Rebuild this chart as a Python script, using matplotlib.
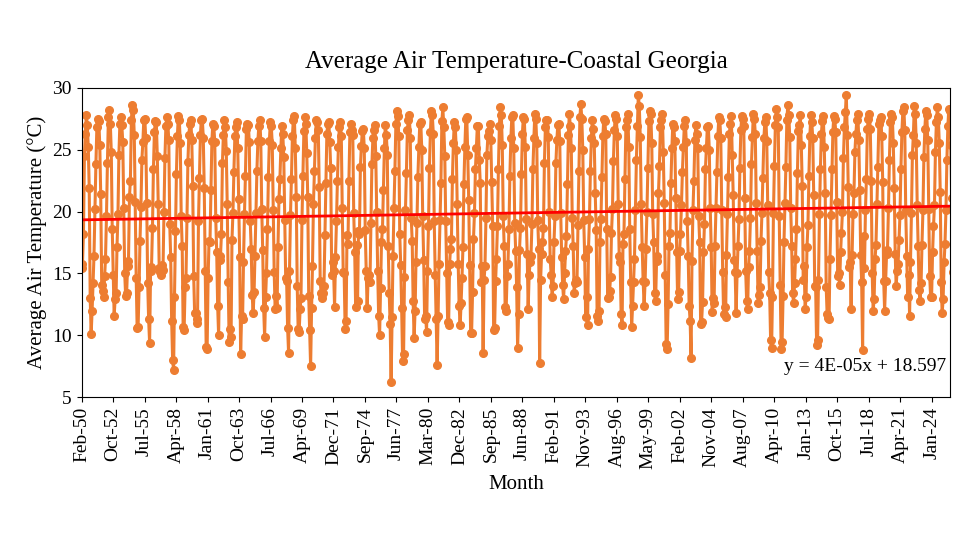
import datetime as dt
import numpy as np
import matplotlib
matplotlib.use('Agg')
import matplotlib.pyplot as plt
import matplotlib.dates as mdates

plt.rcParams['font.family'] = ['Liberation Serif', 'DejaVu Serif']

# monthly means Jan..Dec (1950 starts in Feb, 2025 ends in Aug)
years = list(range(1950, 2026))
monthly = [
    [None, 15.4, 15.8, 18.2, 24.5, 26.3, 27.8, 27.0, 25.2, 21.9, 13.0, 10.1],
    [12.0, 14.2, 16.4, 20.2, 23.8, 26.8, 27.5, 27.3, 25.4, 21.4, 14.1, 13.6],
    [13.1, 14.8, 16.2, 19.6, 23.9, 27.6, 28.2, 27.1, 24.8, 18.6, 14.9, 11.6],
    [12.9, 13.4, 17.1, 19.8, 24.6, 27.1, 27.6, 27.0, 25.6, 20.3, 15.0, 13.2],
    [13.4, 15.6, 16.0, 21.2, 22.5, 27.4, 28.6, 28.2, 26.2, 20.8, 14.6, 10.6],
    [10.7, 13.9, 17.6, 20.4, 24.2, 25.6, 27.4, 27.5, 25.9, 20.7, 14.2, 11.3],
    [9.4, 15.2, 15.5, 18.7, 23.4, 26.4, 27.3, 27.2, 24.5, 20.6, 15.4, 15.1],
    [14.9, 15.7, 15.3, 20.0, 24.3, 26.9, 27.6, 27.1, 25.8, 19.0, 16.3, 11.2],
    [8.0, 7.2, 13.1, 18.4, 23.0, 26.1, 27.7, 27.4, 25.5, 19.6, 17.2, 10.7],
    [10.4, 13.9, 14.6, 19.5, 24.0, 26.2, 27.1, 27.4, 25.8, 22.1, 14.8, 11.8],
    [11.8, 11.3, 11.0, 19.2, 22.7, 26.2, 27.4, 27.5, 25.9, 21.9, 15.2, 9.1],
    [8.9, 14.6, 17.6, 17.5, 21.7, 25.7, 27.1, 26.9, 25.6, 19.5, 16.7, 12.4],
    [10.0, 16.1, 16.4, 18.2, 23.9, 26.2, 27.4, 26.8, 24.9, 20.6, 14.3, 9.5],
    [10.5, 9.9, 17.7, 19.9, 23.2, 26.1, 26.8, 27.2, 25.1, 21.0, 16.3, 8.5],
    [11.6, 11.3, 15.9, 19.8, 22.9, 26.7, 27.1, 27.0, 25.6, 19.2, 17.0, 13.3],
    [11.8, 13.5, 16.4, 19.9, 23.3, 25.7, 26.9, 27.4, 25.7, 20.2, 16.9, 12.2],
    [9.9, 13.1, 15.0, 18.6, 22.8, 25.7, 27.2, 26.9, 25.4, 20.1, 15.1, 12.1],
    [13.2, 12.2, 17.1, 21.0, 22.6, 25.1, 26.9, 26.3, 24.4, 19.3, 14.6, 14.4],
    [10.6, 8.6, 15.2, 19.7, 22.6, 26.1, 27.4, 27.7, 25.1, 21.2, 14.0, 10.5],
    [10.3, 12.1, 13.0, 19.3, 22.9, 26.5, 27.6, 27.1, 24.7, 21.2, 13.2, 10.4],
    [7.5, 12.2, 15.6, 20.6, 23.3, 25.9, 27.4, 27.2, 26.6, 22.0, 14.4, 13.4],
    [13.0, 13.4, 14.0, 18.1, 22.3, 26.3, 27.1, 27.2, 25.6, 23.5, 14.9, 15.9],
    [15.2, 12.3, 16.3, 19.2, 22.5, 25.2, 26.8, 27.2, 26.1, 20.3, 15.1, 15.0],
    [10.5, 11.2, 18.1, 17.4, 22.5, 26.4, 27.1, 26.6, 26.2, 19.9, 16.7, 12.3],
    [17.3, 12.8, 18.4, 18.2, 23.6, 25.3, 26.5, 26.7, 25.1, 18.5, 15.2, 12.2],
    [14.6, 14.9, 14.3, 19.1, 23.8, 25.9, 26.6, 27.0, 24.5, 20.0, 15.2, 11.6],
    [10.0, 13.8, 17.5, 18.6, 21.7, 25.1, 27.0, 26.2, 24.6, 17.2, 13.4, 10.9],
    [6.2, 11.5, 16.4, 20.3, 23.3, 27.1, 28.1, 27.7, 26.1, 18.2, 15.7, 12.2],
    [7.9, 8.5, 14.7, 20.1, 23.1, 26.6, 27.4, 27.8, 25.9, 19.5, 17.6, 12.8],
    [9.8, 12.0, 15.9, 19.1, 22.8, 25.2, 27.1, 27.2, 25.0, 19.6, 16.1, 11.3],
    [11.6, 10.3, 15.2, 18.8, 23.5, 26.4, 28.1, 27.8, 26.3, 19.2, 14.9, 11.3],
    [7.6, 11.6, 15.8, 19.3, 22.3, 27.3, 28.4, 26.8, 24.5, 19.2, 15.0, 11.1],
    [10.8, 15.8, 17.0, 17.8, 22.6, 25.5, 27.2, 26.8, 25.0, 20.6, 15.8, 12.4],
    [10.8, 12.6, 14.6, 17.1, 22.2, 25.2, 27.5, 27.6, 24.6, 20.9, 15.7, 10.2],
    [10.2, 13.5, 17.8, 19.9, 23.4, 25.1, 26.9, 26.9, 24.2, 22.3, 14.3, 15.6],
    [8.6, 14.5, 15.6, 19.5, 24.6, 26.1, 26.5, 27.1, 25.8, 22.4, 18.8, 10.4],
    [10.6, 14.4, 16.2, 18.8, 23.4, 26.9, 28.4, 27.8, 25.4, 19.6, 17.2, 12.3],
    [12.0, 14.8, 15.8, 18.6, 22.9, 25.9, 27.6, 27.8, 25.1, 19.1, 16.8, 13.9],
    [9.0, 11.7, 16.9, 18.7, 23.0, 26.3, 27.6, 27.5, 25.2, 19.4, 16.6, 12.1],
    [14.9, 15.9, 16.4, 19.0, 23.4, 25.9, 27.9, 27.5, 25.5, 19.3, 17.0, 7.8],
    [14.5, 16.6, 17.5, 18.7, 23.9, 26.8, 27.4, 27.4, 26.0, 20.0, 16.2, 14.9],
    [13.1, 14.0, 17.5, 19.6, 23.9, 25.8, 27.0, 27.1, 25.7, 19.9, 16.3, 14.1],
    [12.9, 15.0, 16.8, 18.0, 22.2, 26.2, 27.9, 26.9, 25.1, 19.5, 17.2, 13.4],
    [14.2, 14.5, 14.3, 18.9, 23.3, 27.6, 28.7, 27.5, 25.0, 19.3, 16.3, 11.5],
    [13.1, 10.8, 17.0, 19.4, 23.3, 25.9, 27.4, 26.7, 25.5, 21.5, 18.5, 11.6],
    [11.2, 12.0, 17.5, 19.4, 22.8, 26.1, 27.5, 27.3, 26.3, 18.6, 13.0, 13.1],
    [13.6, 14.7, 18.3, 20.2, 24.1, 26.6, 27.8, 27.5, 26.1, 20.6, 16.4, 15.9],
    [11.7, 10.8, 17.4, 18.2, 22.6, 26.8, 27.4, 27.9, 25.2, 18.6, 14.3, 10.7],
    [12.4, 14.3, 16.2, 20.1, 24.2, 26.9, 29.4, 28.5, 26.0, 20.6, 17.1, 14.4],
    [12.4, 14.3, 17.0, 20.0, 23.5, 27.3, 28.1, 27.9, 25.5, 19.8, 17.5, 13.4],
    [12.8, 16.0, 16.4, 21.5, 23.7, 26.8, 27.4, 27.9, 24.8, 20.7, 14.9, 9.3],
    [8.9, 12.5, 17.2, 18.3, 22.3, 25.1, 27.1, 26.8, 25.7, 21.1, 16.7, 12.9],
    [13.5, 16.8, 18.2, 20.5, 23.2, 25.2, 26.9, 27.4, 25.6, 19.2, 16.4, 12.4],
    [11.2, 8.2, 16.0, 20.1, 22.5, 25.8, 27.0, 26.3, 25.1, 19.6, 17.5, 10.9],
    [11.1, 12.7, 16.7, 19.0, 23.4, 25.1, 26.8, 26.9, 25.0, 20.3, 17.1, 11.9],
    [13.0, 12.6, 17.2, 20.3, 23.2, 26.1, 27.6, 27.4, 25.9, 20.1, 15.1, 11.7],
    [12.3, 11.5, 16.5, 19.8, 22.8, 26.3, 27.1, 27.7, 24.6, 21.3, 16.1, 15.1],
    [11.8, 15.0, 17.2, 19.4, 23.5, 26.6, 27.7, 27.5, 26.9, 21.1, 15.2, 12.8],
    [12.1, 15.5, 16.8, 19.5, 23.8, 26.0, 27.9, 27.5, 26.3, 20.7, 16.8, 12.6],
    [13.3, 13.9, 17.6, 19.9, 22.7, 25.9, 27.2, 27.6, 25.7, 20.5, 15.1, 13.4],
    [9.6, 9.0, 13.1, 19.9, 23.7, 27.0, 28.3, 27.6, 26.8, 19.6, 14.1, 8.9],
    [9.5, 13.2, 17.5, 20.7, 23.6, 27.4, 28.6, 27.8, 26.0, 20.3, 17.2, 13.4],
    [12.6, 14.2, 16.2, 18.6, 23.1, 26.5, 27.0, 27.8, 25.4, 22.1, 14.5, 15.6],
    [12.1, 13.1, 17.1, 18.9, 22.9, 26.1, 27.8, 27.2, 25.9, 21.3, 14.0, 13.9],
    [9.2, 9.6, 14.5, 19.8, 23.4, 26.3, 27.3, 27.7, 25.2, 21.5, 13.9, 11.7],
    [11.4, 11.3, 16.2, 19.7, 23.4, 26.4, 27.7, 27.5, 26.4, 20.8, 14.8, 15.0],
    [14.1, 16.7, 18.3, 20.0, 24.3, 26.8, 28.0, 29.4, 26.2, 22.0, 15.5, 15.9],
    [12.1, 16.5, 19.8, 21.5, 24.8, 26.3, 27.4, 27.9, 25.8, 21.7, 16.5, 14.3],
    [8.8, 18.0, 15.4, 20.1, 22.6, 26.7, 27.5, 27.9, 26.7, 22.5, 15.0, 12.0],
    [12.9, 16.2, 17.3, 20.6, 23.6, 27.1, 27.4, 27.6, 26.1, 22.4, 14.4, 12.0],
    [14.4, 16.6, 16.9, 20.3, 24.2, 27.2, 27.9, 27.6, 25.5, 21.9, 16.6, 14.0],
    [15.2, 15.8, 17.7, 19.7, 23.4, 26.4, 28.1, 28.4, 26.6, 20.1, 16.4, 13.1],
    [14.9, 11.6, 15.9, 19.9, 24.6, 26.2, 28.5, 27.9, 25.5, 20.5, 17.2, 13.7],
    [12.8, 14.2, 17.3, 20.1, 24.4, 26.7, 28.1, 27.8, 25.8, 20.2, 14.8, 13.1],
    [13.1, 16.7, 18.8, 20.5, 24.8, 27.2, 28.4, 27.6, 25.5, 21.6, 14.3, 11.8],
    [12.9, 15.9, 17.4, 20.1, 24.2, 26.9, 28.3, 28.1, 25.4, 21.1, 15.1, 12.9],
    [8.1, 13.6, 18.4, 20.5, 24.9, 27.2, 28.4, 26.6, None, None, None, None],
]

dates = []
temps = []
for yr, row in zip(years, monthly):
    for m, v in enumerate(row):
        if v is not None:
            dates.append(dt.date(yr, m + 1, 1))
            temps.append(v)

# Excel-style trend line y = 4E-05x + 18.597 (x = Excel day serial)
slope = 4e-05
intercept = 18.597
excel_zero = dt.date(1899, 12, 30)
serial = np.array([(d - excel_zero).days for d in dates])
trend = slope * serial + intercept

fig, ax = plt.subplots(figsize=(9.6, 5.48), dpi=100)
fig.subplots_adjust(left=0.085, right=0.99, top=0.84, bottom=0.275)

ax.plot(dates, temps, color='#ED7D31', lw=2.2, marker='o', ms=5.5)
ax.plot(dates, trend, color='red', lw=2)

ax.set_ylim(5, 30)
ax.set_yticks(range(5, 31, 5))
start = dt.date(1950, 2, 1)
ax.set_xlim(mdates.date2num(start), mdates.date2num(dt.date(2025, 8, 20)))
ticks = [start + dt.timedelta(days=1000 * k) for k in range(28)]
ax.set_xticks([mdates.date2num(t) for t in ticks])
ax.set_xticklabels([t.strftime('%b-%y') for t in ticks], rotation=90)
ax.tick_params(labelsize=14, direction='out')

ax.set_title('Average Air Temperature-Coastal Georgia', fontsize=18, pad=14)
ax.set_xlabel('Month', fontsize=15)
ax.set_ylabel('Average Air Temperature (°C)', fontsize=15)
ax.text(0.995, 0.1, 'y = 4E-05x + 18.597', transform=ax.transAxes,
        ha='right', va='center', fontsize=14)

fig.savefig('out.png', dpi=100)
